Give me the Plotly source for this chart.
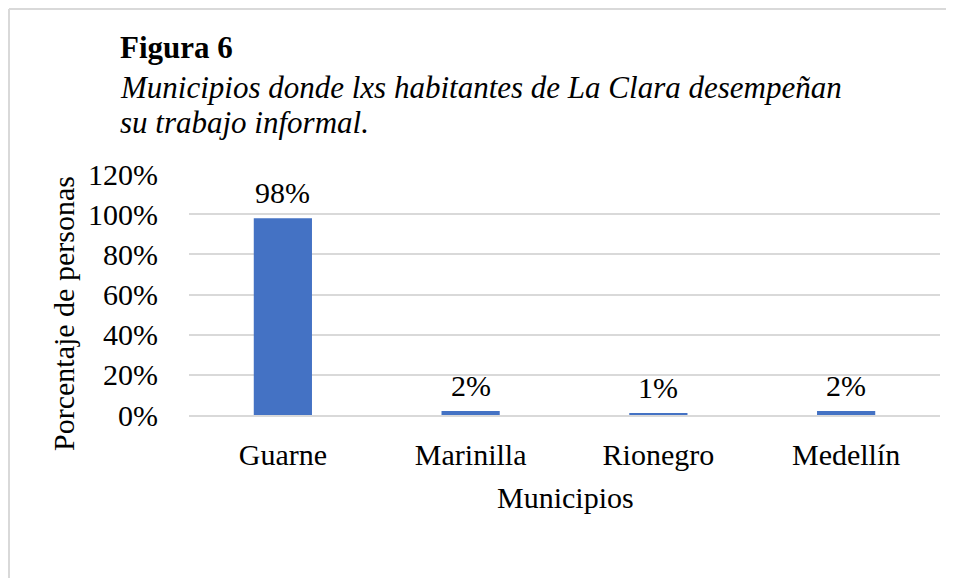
import plotly.graph_objects as go

categories = ["Guarne", "Marinilla", "Rionegro", "Medellín"]
values = [0.98, 0.02, 0.01, 0.02]
value_labels = ["98%", "2%", "1%", "2%"]

OFF = 8  # page body margin
W, H = 946, 570
L, R, T, B = 181, 14, 166, 163
PW, PH = W - L - R, H - T - B

def px_x(px):
    return (px - OFF - L) / PW

def px_y(py):
    return (H - B - (py - OFF)) / PH

FONT = "Liberation Serif"
BLUE = "#4472C4"
GRID = "#d9d9d9"

fig = go.Figure()
fig.add_trace(go.Bar(
    x=categories, y=values, marker=dict(color=BLUE, line=dict(width=0)),
    hoverinfo="skip", cliponaxis=False,
))

annotations = []
for c, v, t in zip(categories, values, value_labels):
    annotations.append(dict(x=c, y=v, xref="x", yref="y", text=t, showarrow=False,
                            yanchor="bottom", yshift=7,
                            font=dict(family=FONT, size=30, color="#000")))

annotations += [
    dict(x=px_x(118), y=px_y(47), xref="paper", yref="paper", xanchor="left", yanchor="middle",
         text="<b>Figura 6</b>", showarrow=False, font=dict(family=FONT, size=31, color="#000")),
    dict(x=px_x(118), y=px_y(88), xref="paper", yref="paper", xanchor="left", yanchor="middle",
         text="<i>Municipios donde lxs habitantes de La Clara desempeñan</i>", showarrow=False,
         font=dict(family=FONT, size=31, color="#000")),
    dict(x=px_x(118), y=px_y(122), xref="paper", yref="paper", xanchor="left", yanchor="middle",
         text="<i>su trabajo informal.</i>", showarrow=False,
         font=dict(family=FONT, size=31, color="#000")),
    dict(x=px_x(63), y=px_y(314), xref="paper", yref="paper", xanchor="center", yanchor="middle",
         text="Porcentaje de personas", textangle=-90, showarrow=False,
         font=dict(family=FONT, size=30, color="#000")),
    dict(x=px_x(565), y=px_y(497), xref="paper", yref="paper", xanchor="center", yanchor="middle",
         text="Municipios", showarrow=False,
         font=dict(family=FONT, size=30, color="#000")),
]

border = dict(color=GRID, width=2)
fig.update_layout(
    width=W, height=H,
    margin=dict(l=L, r=R, t=T, b=B, pad=0),
    paper_bgcolor="white", plot_bgcolor="white",
    showlegend=False,
    bargap=0.69,
    annotations=annotations,
    shapes=[
        dict(type="line", xref="paper", yref="paper",
             x0=px_x(9), x1=px_x(960), y0=px_y(9), y1=px_y(9), line=border, layer="below"),
        dict(type="line", xref="paper", yref="paper",
             x0=px_x(9), x1=px_x(9), y0=px_y(9), y1=px_y(600), line=border, layer="below"),
    ],
    xaxis=dict(showgrid=False, showline=True, linecolor=GRID, linewidth=1.5,
               tickfont=dict(family=FONT, size=30, color="#000"),
               ticks="", ticklabelstandoff=12),
    yaxis=dict(range=[0, 1.2], dtick=0.2, tickformat=".0%", showgrid=True,
               gridcolor=GRID, gridwidth=1.5, zeroline=False, showline=False,
               tickfont=dict(family=FONT, size=30, color="#000"),
               ticks="", ticklabelstandoff=30),
)

fig.write_html("out.html")
